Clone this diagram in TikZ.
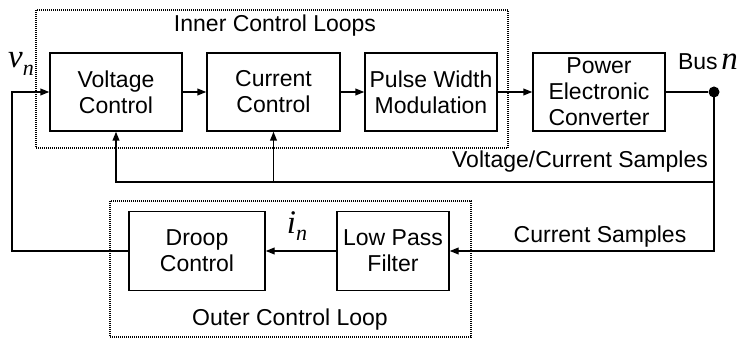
\documentclass[tikz,border=0pt]{standalone}
\usepackage{fontspec}
\setmainfont{Liberation Sans}
\newfontfamily\tmsfont{Liberation Serif}
\usetikzlibrary{arrows.meta,positioning}
\newcommand{\symb}[2]{{\tmsfont\itshape\fontsize{16.5}{16}\selectfont #1\raisebox{-0.5ex}{\fontsize{11}{11}\selectfont #2}}}

\begin{document}
\begin{tikzpicture}[x=0.5pt,y=-0.5pt,font=\fontsize{11.5}{13}\selectfont,
  block/.style={draw,line width=0.7pt,align=center,minimum height=39pt,inner sep=0pt},
  loopbox/.style={draw,line width=0.6pt,dash pattern=on 0.5pt off 0.5pt},
  sig/.style={line width=0.7pt,-{Triangle[length=4.5pt,width=3.4pt]}},
  wire/.style={line width=0.7pt}]
  \useasboundingbox (0,0) rectangle (737,340);
  % dotted loop frames
  \draw[loopbox] (36,10) rectangle (508,148);
  \draw[loopbox] (110,201) rectangle (471,337);
  \node (innerlbl) at (275,26) {Inner Control Loops};
  \node (outerlbl) at (290,320) {Outer Control Loop};
  % upper chain
  \foreach \name/\x/\w/\txt in {vc/116/66/Voltage\\Control,cc/273.5/66.5/Current\\Control,
      pwm/431/66/Pulse Width\\Modulation,pec/599/66/Power\\Electronic\\Converter}{
    \node[block,minimum width=\w pt] (\name) at (\x,92) {\txt};
  }
  % outer loop blocks
  \node[block,minimum width=68pt,minimum height=39.5pt] (droop) at (197,251) {Droop\\Control};
  \node[block,minimum width=56pt,minimum height=39.5pt] (lpf) at (393,251) {Low Pass\\Filter};
  \node[circle,fill,inner sep=0pt,minimum size=5.5pt] (bus) at (714,92) {};
  \node (buslbl) at (708,65) {Bus\,\symb{n}{}};
  \coordinate (samprow) at (0,182);
  \coordinate (rail) at (12,251);
  % connectors
  \draw[sig] (vc) -- (cc);
  \draw[sig] (cc) -- (pwm);
  \draw[sig] (pwm) -- (pec);
  \draw[wire] (pec) -- (bus);
  \draw[sig] (bus.center) -- (bus |- samprow) -| (vc.south);
  \draw[sig] (cc.south |- samprow) -- (cc.south);
  \draw[sig] (bus.center) |- (lpf.east);
  \draw[sig] (lpf) -- (droop);
  \draw[sig] (droop.west) -- (rail) |- (vc.west);
  % signal labels
  \node (vnlbl) at (21,64) {\symb{v}{n}};
  \node (inlbl) at (297,226) {\symb{i}{n}};
  \node (vcslbl) at (580,162) {Voltage/Current Samples};
  \node (cslbl) at (600,237) {Current Samples};
\end{tikzpicture}
\end{document}
